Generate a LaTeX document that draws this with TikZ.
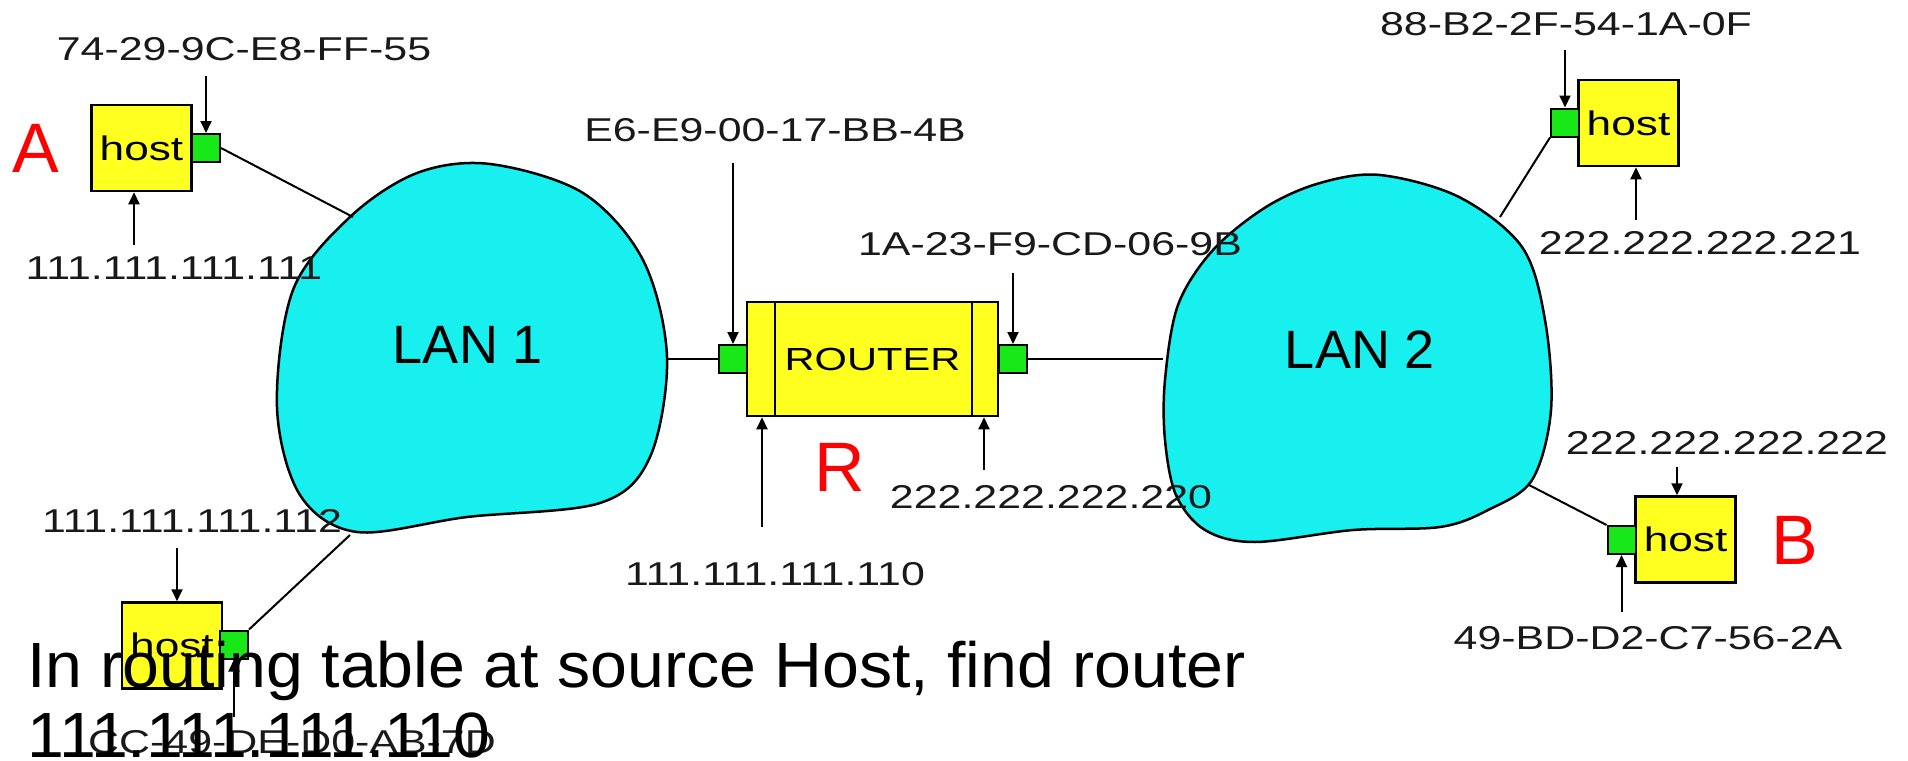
\documentclass[tikz,border=0pt]{standalone}
\usepackage{fontspec}
\setmainfont{Liberation Sans}
\newfontfamily\lblfont[FakeStretch=1.3]{Liberation Sans}
\newfontfamily\capfont[FakeStretch=1.035]{Liberation Sans}
\usetikzlibrary{arrows.meta,calc}
\definecolor{lancyan}{RGB}{24,240,240}
\definecolor{boxyellow}{RGB}{255,255,32}
\definecolor{portgreen}{RGB}{24,232,24}
\definecolor{redmark}{RGB}{255,0,0}
\tikzset{
  hostbox/.style={draw=black, line width=2.5pt, fill=boxyellow, minimum width=100pt, minimum height=86pt, inner sep=0pt, font=\lblfont\fontsize{34}{34}\selectfont},
  portbox/.style={draw=black, line width=2pt, fill=portgreen, minimum width=28pt, minimum height=28pt, inner sep=0pt},
  routerbox/.style={draw=black, line width=2.5pt, fill=boxyellow, minimum width=251pt, minimum height=114pt, inner sep=0pt, font=\lblfont\fontsize{32}{32}\selectfont},
  lanshape/.style={draw=black, line width=2.5pt, fill=lancyan},
  lantext/.style={font=\fontsize{54}{54}\selectfont, inner sep=0pt},
  addr/.style={font=\lblfont\fontsize{33}{33}\selectfont, inner sep=0pt, text=black!90},
  link/.style={line width=2pt},
  ptr/.style={line width=2pt, -{Triangle[length=12pt,width=11pt]}},
  redletter/.style={font=\fontsize{70}{70}\selectfont, text=redmark, inner sep=0pt},
  caption/.style={font=\capfont\fontsize{64}{70}\selectfont, inner sep=0pt, anchor=base west}
}
\begin{document}
\begin{tikzpicture}[x=1pt,y=-1pt]
\useasboundingbox (0,0) rectangle (1908,760);
\fill[white] (0,0) rectangle (1908,760);

% LAN clouds
\draw[lanshape] plot[smooth cycle, tension=0.55] coordinates {
  (490,164) (583,193) (643,260) (667,357) (650,457) (600,503) (467,517)
  (357,532) (300,495) (277,407) (293,290) (350,217) (417,173)};
\node[lantext] (lan1) at (468,345) {LAN 1};
\draw[lanshape] plot[smooth cycle, tension=0.55] coordinates {
  (1380,175) (1459,197) (1522,247) (1545,320) (1551,410) (1532,480)
  (1488,510) (1440,527) (1353,530) (1255,542) (1205,530) (1176,495)
  (1165,440) (1165,380) (1178,305) (1213,250) (1266,207) (1320,183)};
\node[lantext] (lan2) at (1360,350) {LAN 2};

% attachment points on the LAN edges
\coordinate (l1a) at (353,217);
\coordinate (l1c) at (350,535);
\coordinate (l1r) at (667,359);
\coordinate (l2l) at (1163,359);
\coordinate (l2d) at (1500,217);
\coordinate (l2b) at (1529,485);

% boxes
\node[hostbox] (hostA) at (141.5,148) {host};
\node[portbox] (portA) at (206,148) {};
\node[hostbox] (hostC) at (172,645.5) {host};
\node[portbox] (portC) at (234,644.5) {};
\node[routerbox] (router) at (872.5,359) {ROUTER};
\node[portbox] (portRL) at (733,359) {};
\node[portbox] (portRR) at (1013,359) {};
\node[hostbox] (hostD) at (1628.5,123) {host};
\node[portbox] (portD) at (1565,122.5) {};
\node[hostbox] (hostB) at (1685.5,539.5) {host};
\node[portbox] (portB) at (1621.5,540) {};
\draw[line width=2pt] ($(router.north west)+(29,0)$) -- ($(router.south west)+(29,0)$);
\draw[line width=2pt] ($(router.north east)+(-27,0)$) -- ($(router.south east)+(-27,0)$);

% links
\draw[link] (portA.east) -- (l1a);
\draw[link] (portC.north east) -- (l1c);
\draw[link] (l1r) -- (portRL.west);
\draw[link] (portRR.east) -- (l2l);
\draw[link] (portD.south west) -- (l2d);
\draw[link] (portB.north west) -- (l2b);

% address labels
\node[addr] (macA) at (244,49) {74-29-9C-E8-FF-55};
\node[addr] (ipA) at (174,268) {111.111.111.111};
\node[addr] (ipC) at (192,521) {111.111.111.112};
\node[addr] (macC) at (292,742) {CC-49-DE-D0-AB-7D};
\node[addr] (macRL) at (775,130) {E6-E9-00-17-BB-4B};
\node[addr] (macRR) at (1050,244) {1A-23-F9-CD-06-9B};
\node[addr] (ipRL) at (775,574) {111.111.111.110};
\node[addr] (ipRR) at (1051,497) {222.222.222.220};
\node[addr] (macD) at (1566,24) {88-B2-2F-54-1A-0F};
\node[addr] (ipD) at (1700,243) {222.222.222.221};
\node[addr] (ipB) at (1727,443) {222.222.222.222};
\node[addr] (macB) at (1648,638) {49-BD-D2-C7-56-2A};

% pointer start points
\coordinate (pmacA) at (206,76);
\coordinate (pipA) at (134,245);
\coordinate (pipC) at (177,548);
\coordinate (pmacC) at (234,717);
\coordinate (pmacRL) at (733,163);
\coordinate (pmacRR) at (1013,273);
\coordinate (pipRL) at (762,527);
\coordinate (pipRR) at (984,470);
\coordinate (pmacD) at (1565,50);
\coordinate (pipD) at (1636,220);
\coordinate (pipB) at (1677,467);
\coordinate (pmacB) at (1621.5,612);

\draw[ptr] (pmacA) -- (portA.north);
\draw[ptr] (pipA) -- (pipA |- hostA.south);
\draw[ptr] (pipC) -- (pipC |- hostC.north);
\draw[ptr] (pmacC) -- (portC.south);
\draw[ptr] (pmacRL) -- (portRL.north);
\draw[ptr] (pmacRR) -- (portRR.north);
\draw[ptr] (pipRL) -- (pipRL |- router.south);
\draw[ptr] (pipRR) -- (pipRR |- router.south);
\draw[ptr] (pmacD) -- (portD.north);
\draw[ptr] (pipD) -- (pipD |- hostD.south);
\draw[ptr] (pipB) -- (pipB |- hostB.north);
\draw[ptr] (pmacB) -- (portB.south);

% red marks
\node[redletter] (markA) at (36,148) {A};
\node[redletter] (markR) at (840,467) {R};
\node[redletter] (markB) at (1795,540) {B};

% caption
\node[caption] (cap1) at (27,687) {In routing table at source Host, find router};
\node[caption] (cap2) at (27,757) {111.111.111.110};
\end{tikzpicture}
\end{document}
